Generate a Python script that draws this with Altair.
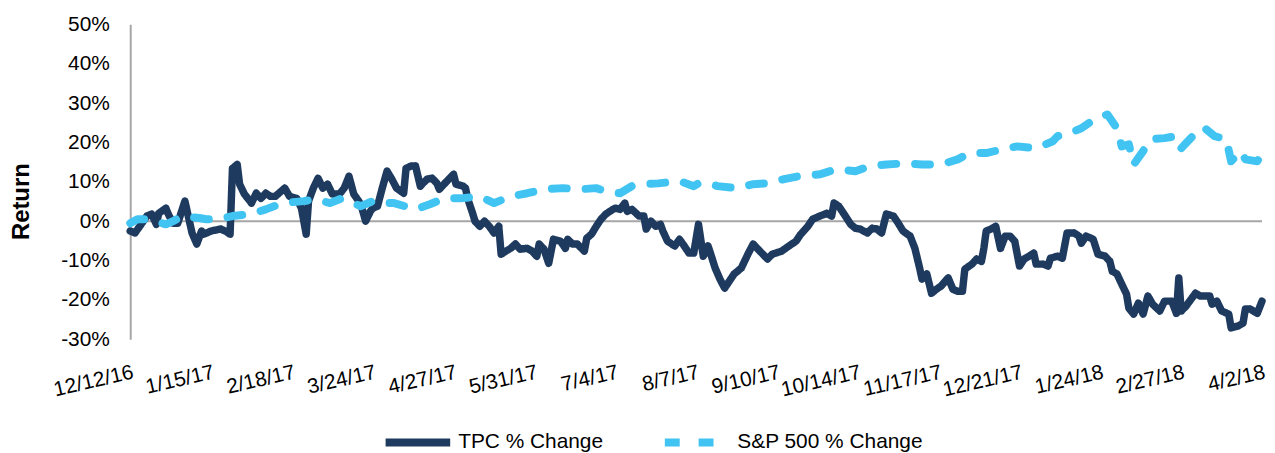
import altair as alt
import pandas as pd

START = "2016-12-12"
series_names = ["TPC % Change", "S&P 500 % Change"]
tick_dates = ["2016-12-12", "2017-01-15", "2017-02-18", "2017-03-24", "2017-04-27",
              "2017-05-31", "2017-07-04", "2017-08-07", "2017-09-10", "2017-10-14",
              "2017-11-17", "2017-12-21", "2018-01-24", "2018-02-27", "2018-04-02"]
y_ticks = [-30, -20, -10, 0, 10, 20, 30, 40, 50]

# days since 12/12/16, and % return
tpc_days = [0, 2, 4, 7, 9, 11, 12, 15, 16, 18,
            20, 23, 26, 28, 30, 31, 34, 38, 40, 42,
            43, 45, 46, 48, 51, 53, 55, 57, 59, 61,
            65, 67, 70, 72, 74, 75, 77, 79, 81, 83,
            85, 88, 90, 92, 94, 97, 99, 101, 102, 104,
            106, 108, 110, 112, 115, 116, 118, 120, 122, 123,
            125, 127, 129, 130, 132, 134, 136, 137, 140, 141,
            142, 144, 145, 147, 149, 151, 153, 155, 156, 158,
            160, 162, 164, 167, 169, 171, 172, 174, 176, 178,
            181, 183, 184, 186, 188, 191, 192, 194, 196, 198,
            200, 203, 204, 206, 208, 209, 211, 214, 216, 217,
            219, 221, 223, 224, 226, 229, 231, 233, 235, 237,
            239, 241, 243, 244, 246, 248, 250, 252, 254, 257,
            260, 262, 264, 268, 270, 274, 277, 280, 282, 285,
            287, 290, 293, 295, 296, 298, 300, 303, 305, 307,
            310, 312, 314, 316, 318, 321, 323, 325, 328, 330,
            332, 333, 335, 337, 339, 341, 344, 346, 348, 350,
            351, 354, 356, 358, 359, 360, 362, 364, 366, 368,
            370, 372, 374, 376, 378, 380, 381, 384, 386, 387,
            390, 392, 394, 397, 399, 400, 402, 404, 405, 407,
            410, 412, 413, 415, 417, 419, 420, 422, 424, 426,
            428, 430, 433, 435, 438, 440, 441, 442, 444, 448,
            450, 454, 455, 457, 459, 462, 463, 466, 468, 469,
            471, 474, 476]
tpc_vals = [-2.5, -3.0, -1.3, 1.3, 1.8, -0.8, 2.0, 3.3, 1.8, -0.5,
            -0.5, 5.1, -3.0, -5.8, -2.5, -3.3, -2.5, -2.0, -2.5, -3.3,
            13.4, 14.4, 9.4, 6.9, 4.6, 7.1, 5.8, 7.1, 6.3, 6.3,
            8.4, 6.3, 5.8, 3.3, -3.3, 5.1, 8.4, 10.9, 8.4, 9.4,
            6.9, 6.9, 8.4, 11.4, 6.9, 4.3, 0.0, 2.5, 3.3, 3.8,
            8.4, 12.7, 10.7, 8.4, 7.1, 13.4, 14.0, 14.0, 8.9, 9.6,
            10.7, 10.9, 9.6, 8.1, 9.4, 10.7, 11.9, 9.4, 8.9, 8.4,
            5.6, 2.0, 0.0, -1.3, 0.0, -1.3, -3.0, -1.3, -8.4, -7.6,
            -6.9, -5.8, -7.1, -6.9, -7.6, -8.9, -5.8, -7.1, -10.7, -4.6,
            -5.1, -6.9, -4.6, -5.8, -5.8, -7.6, -4.3, -3.3, -1.3, 0.5,
            1.8, 3.0, 3.3, 3.0, 4.6, 2.5, 3.0, 1.3, 1.3, -2.0,
            0.0, -1.3, -0.8, -2.5, -5.1, -6.3, -4.6, -6.3, -8.1, -8.1,
            -0.8, -8.9, -6.3, -8.1, -11.9, -14.7, -17.0, -15.2, -13.4, -11.9,
            -8.1, -5.8, -7.1, -9.6, -8.4, -7.6, -6.3, -5.1, -3.3, -1.3,
            0.5, 1.3, 2.0, 1.3, 4.6, 3.8, 2.0, -0.8, -1.8, -2.0,
            -3.0, -1.8, -2.0, -3.0, 1.8, 1.3, -0.5, -2.5, -3.8, -6.9,
            -11.9, -14.7, -13.4, -18.3, -17.3, -16.5, -14.4, -17.3, -17.8, -17.8,
            -12.2, -10.9, -9.6, -10.2, -6.9, -2.5, -2.0, -1.3, -6.9, -3.8,
            -3.8, -5.1, -11.4, -9.6, -8.9, -8.1, -10.9, -10.9, -11.4, -9.4,
            -8.9, -9.4, -3.0, -3.0, -3.8, -5.6, -3.8, -4.3, -4.6, -8.4,
            -8.9, -10.2, -12.7, -13.4, -16.0, -18.5, -22.1, -23.6, -20.8, -23.6,
            -19.0, -21.1, -22.8, -20.3, -20.3, -23.4, -14.4, -22.8, -21.6, -18.3,
            -19.0, -19.0, -21.1, -20.3, -22.8, -23.6, -27.1, -26.6, -25.9, -22.3,
            -22.3, -23.4, -20.3]

sp_days = [0, 3, 7, 15, 18, 22, 29, 32, 37, 43,
           51, 57, 64, 73, 78, 84, 89, 97, 102, 104,
           111, 120, 126, 132, 139, 147, 153, 160, 167, 174,
           182, 189, 196, 200, 206, 211, 216, 222, 231, 237,
           239, 243, 247, 255, 262, 268, 275, 281, 290, 297,
           305, 311, 318, 326, 333, 341, 348, 353, 360, 367,
           373, 381, 388, 390, 394, 400, 406, 411, 415, 417,
           420, 422, 426, 429, 435, 440, 442, 444, 450, 452,
           456, 461, 463, 467, 469, 474, 476]
sp_vals = [-0.5, 0.5, 0.5, -0.8, 0.0, 1.3, 0.8, 0.5, 0.5, 1.3,
           1.8, 3.0, 4.6, 5.1, 5.6, 4.6, 5.8, 3.8, 5.1, 4.6,
           4.6, 3.0, 4.3, 5.8, 5.8, 6.3, 4.6, 6.3, 7.1, 8.1,
           8.4, 8.1, 8.4, 7.6, 7.1, 8.9, 9.4, 9.6, 10.2, 8.9,
           9.6, 9.6, 8.9, 8.4, 9.4, 9.6, 10.7, 11.4, 11.9, 13.2,
           12.7, 14.0, 14.4, 14.7, 14.4, 14.4, 15.7, 17.3, 17.3, 18.3,
           19.0, 18.5, 20.3, 21.6, 22.1, 23.6, 26.1, 27.1, 23.6, 19.0,
           19.5, 14.4, 17.8, 20.8, 21.1, 21.6, 18.5, 19.8, 23.6, 23.6,
           21.6, 20.8, 15.2, 17.8, 15.7, 15.2, 17.3]

FONT = "Liberation Sans"
DARK = "#1f3a5f"
LIGHT = "#42c4f3"
GRAY = "#a6a6a6"


def to_dates(days):
    base = pd.Timestamp(START)
    return [(base + pd.Timedelta(days=int(d))).strftime("%Y-%m-%dT00:00:00") for d in days]


def dt(s):
    t = pd.Timestamp(s)
    return alt.DateTime(year=t.year, month=t.month, date=t.day)


tpc_df = pd.DataFrame({"date": to_dates(tpc_days), "value": tpc_vals, "series": series_names[0]})
sp_df = pd.DataFrame({"date": to_dates(sp_days), "value": sp_vals, "series": series_names[1]})
zero_df = pd.DataFrame({"value": [0]})

x_enc = alt.X(
    "date:T",
    scale=alt.Scale(domain=[dt(tick_dates[0]), dt(tick_dates[-1])], nice=False),
    axis=alt.Axis(values=[dt(s) for s in tick_dates], format="%-m/%-d/%y",
                  labelAngle=-13, labelAlign="right", labelBaseline="top",
                  labelPadding=22, labelOverlap=False, labelFlush=False,
                  labelBound=False, domain=False, ticks=False, grid=False,
                  title=None, labelFont=FONT, labelFontSize=21, labelColor="#000000"),
)
y_enc = alt.Y(
    "value:Q",
    scale=alt.Scale(domain=[-30, 50], nice=False, zero=False),
    axis=alt.Axis(values=y_ticks, labelExpr="datum.value + '%'", grid=False,
                  ticks=False, tickSize=0, domainColor=GRAY, domainWidth=2,
                  labelPadding=21, labelFont=FONT, labelFontSize=21,
                  labelOverlap=False, labelBound=False, labelFlush=False,
                  labelColor="#000000", title="Return", titleFont=FONT,
                  titleFontSize=24, titleFontWeight="bold", titleColor="#000000",
                  titleAngle=270, titleX=-102, titleY=178, titleBaseline="alphabetic",
                  titleAlign="center"),
)

color_scale = alt.Scale(domain=series_names, range=[DARK, LIGHT])
dash_scale = alt.Scale(domain=series_names, range=[[1, 0], [15, 19]])
legend = alt.Legend(title=None, orient="none", direction="horizontal",
                    legendX=253, legendY=384, symbolType="stroke",
                    symbolSize=4225, symbolStrokeWidth=8, labelFont=FONT,
                    labelFontSize=21, labelColor="#000000", columnPadding=46,
                    labelOffset=4, labelLimit=400)

zero = alt.Chart(zero_df).mark_rule(color=GRAY, strokeWidth=2).encode(y=y_enc)

tpc = alt.Chart(tpc_df).mark_line(strokeWidth=7.5, strokeCap="round", strokeJoin="round").encode(
    x=x_enc, y=y_enc,
    color=alt.Color("series:N", scale=color_scale, legend=legend),
    strokeDash=alt.StrokeDash("series:N", scale=dash_scale, legend=legend),
)
sp = alt.Chart(sp_df).mark_line(strokeWidth=8, strokeCap="round", strokeJoin="round").encode(
    x=x_enc, y=y_enc,
    color=alt.Color("series:N", scale=color_scale, legend=legend),
    strokeDash=alt.StrokeDash("series:N", scale=dash_scale, legend=legend),
)

chart = alt.layer(zero, tpc, sp).properties(
    width=1139, height=317,
    padding={"left": 123, "top": 15, "right": 5, "bottom": 113},
    autosize=alt.AutoSizeParams(type="none"),
    background="white",
).configure_view(stroke=None)

chart.save("out.html", embed_options={"renderer": "svg", "actions": False})
